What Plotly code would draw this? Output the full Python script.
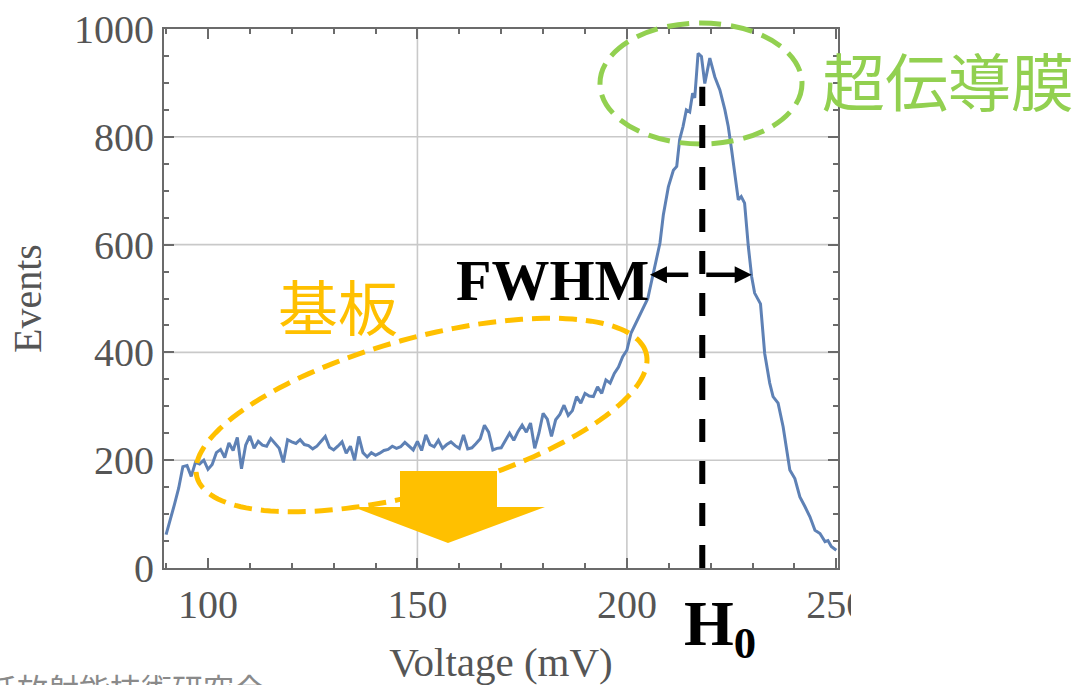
import numpy as np
import plotly.graph_objects as go

# ---------------- data ----------------
voltage = (list(range(90, 200)) +
           [200, 201, 202, 203, 204, 205, 205.5, 206.7, 207.5, 207.9, 208.7, 209.9,
            211.1, 211.9, 212.6, 213.4, 214.2, 215, 215.7, 216.2, 217, 217.8, 218.6,
            219.8, 221, 222.2, 223.4, 224.2, 225, 225.8, 226.6, 227.3, 228.1, 229,
            229.8, 230.5, 231.2, 231.9, 232.9, 234.1, 234.9, 236.1, 237.3, 238.5,
            238.9, 240.1, 241.3, 242.5, 243.7, 244.9, 246.1, 247.3, 248, 248.8, 250])
events = [62, 88, 118, 148, 188, 190, 170, 196, 193, 200,
          183, 192, 214, 220, 205, 232, 218, 242, 184, 228,
          245, 222, 235, 228, 226, 240, 230, 222, 196, 238,
          234, 231, 238, 229, 227, 221, 226, 236, 244, 224,
          219, 226, 234, 213, 226, 200, 244, 214, 206, 214,
          209, 213, 218, 220, 226, 222, 225, 233, 226, 219,
          235, 218, 247, 229, 225, 237, 222, 229, 234, 227,
          222, 247, 221, 223, 231, 240, 265, 252, 219, 222,
          223, 236, 250, 237, 253, 265, 252, 269, 222, 250,
          287, 276, 244, 275, 285, 302, 283, 292, 318, 306,
          324, 319, 318, 336, 324, 349, 343, 361, 373, 392,
          404, 436, 452, 470, 487, 500, 518, 559, 588, 603, 655, 707,
          738, 745, 795, 819, 850, 846, 881, 872, 955, 949, 899,
          946, 911, 887, 850, 819, 776, 732, 683, 689, 677, 596,
          540, 510, 500, 490, 398, 343, 318, 306, 262, 206,
          182, 166, 132, 114, 95, 70, 64, 49, 51, 40, 33]

x_range = [89.5, 250.4]
y_range = [0, 1000]
x_ticks = [100, 150, 200, 250]
y_ticks = [0, 200, 400, 600, 800, 1000]
x_grid = [150, 200]
y_grid = [200, 400, 600, 800]

h0_voltage = 218.0
h0_top = 893
fwhm_level = 544
fwhm_left = 205.5
fwhm_right = 229.8

# ---------------- layout geometry (pixels) ----------------
W, H = 1082, 685
L, R, T, B = 164, 838, 29, 568


def P(px, py):
    """pixel -> paper"""
    return (px - L) / (R - L), (B - py) / (B - T)


def dx(v):
    return L + (v - x_range[0]) / (x_range[1] - x_range[0]) * (R - L)


def dy(v):
    return B - (v - y_range[0]) / (y_range[1] - y_range[0]) * (B - T)


fig = go.Figure()
fig.add_trace(go.Scatter(x=voltage, y=events, mode="lines",
                         line=dict(color="#5E81B5", width=3),
                         showlegend=False, hoverinfo="skip"))

shapes = []
# grid lines
for g in x_grid:
    shapes.append(dict(type="line", xref="x", yref="paper", x0=g, x1=g, y0=0, y1=1,
                       line=dict(color="#c9c9c9", width=1.6), layer="below"))
for g in y_grid:
    shapes.append(dict(type="line", xref="paper", yref="y", x0=0, x1=1, y0=g, y1=g,
                       line=dict(color="#c9c9c9", width=1.6), layer="below"))

# orange rotated dashed ellipse (substrate)
cx, cy, a, b, th = 421.5, 415, 233, 77, np.deg2rad(15.45)
t = np.linspace(0, 2 * np.pi, 161)
ex = cx + a * np.cos(t) * np.cos(th) - b * np.sin(t) * np.sin(th)
ey = cy - (a * np.cos(t) * np.sin(th) + b * np.sin(t) * np.cos(th))
pts = [P(u, v) for u, v in zip(ex, ey)]
path = "M " + " L ".join(f"{p[0]:.5f},{p[1]:.5f}" for p in pts) + " Z"
shapes.append(dict(type="path", xref="paper", yref="paper", path=path,
                   line=dict(color="#FFC000", width=5, dash="18px,9px"), layer="above"))

# orange block arrow
arrow_px = [(400, 471), (497, 471), (497, 507), (545, 507), (448, 543), (353, 507), (400, 507)]
ap = [P(u, v) for u, v in arrow_px]
shapes.append(dict(type="path", xref="paper", yref="paper",
                   path="M " + " L ".join(f"{p[0]:.5f},{p[1]:.5f}" for p in ap) + " Z",
                   fillcolor="#FFC000", line=dict(width=0), layer="above"))

# green dashed ellipse (superconducting film)
g0 = P(600, 144)
g1 = P(802, 23)
shapes.append(dict(type="circle", xref="paper", yref="paper", x0=g0[0], x1=g1[0], y0=g0[1], y1=g1[1],
                   line=dict(color="#92D050", width=5, dash="22px,10px"), layer="above"))

# H0 dashed vertical line
shapes.append(dict(type="line", xref="x", yref="y", x0=h0_voltage, x1=h0_voltage, y0=0, y1=h0_top,
                   line=dict(color="black", width=6, dash="23px,19px"), layer="above"))

# FWHM arrows
yl = dy(fwhm_level)
lx_tip = dx(fwhm_left)
rx_tip = dx(fwhm_right)
h0x = dx(h0_voltage)
for tip, tail, sgn in [(lx_tip, h0x - 14, 1), (rx_tip, h0x + 4, -1)]:
    p0 = P(tail, yl)
    p1 = P(tip + sgn * 15, yl)
    shapes.append(dict(type="line", xref="paper", yref="paper", x0=p0[0], x1=p1[0], y0=p0[1], y1=p1[1],
                       line=dict(color="black", width=4.5), layer="above"))
    tri = [P(tip, yl), P(tip + sgn * 17, yl - 8.5), P(tip + sgn * 17, yl + 8.5)]
    shapes.append(dict(type="path", xref="paper", yref="paper",
                       path="M " + " L ".join(f"{p[0]:.5f},{p[1]:.5f}" for p in tri) + " Z",
                       fillcolor="black", line=dict(width=0), layer="above"))

# white mask that crops the last tick label like the original picture
m0 = P(851, 630)
m1 = P(900, 580)
shapes.append(dict(type="rect", xref="paper", yref="paper", x0=m0[0], x1=m1[0], y0=m0[1], y1=m1[1],
                   fillcolor="white", line=dict(width=0), layer="above"))

annotations = []


def text(s, px, py, size, color, family, xanchor="center"):
    p = P(px, py)
    annotations.append(dict(text=s, x=p[0], y=p[1], xref="paper", yref="paper",
                            showarrow=False, xanchor=xanchor, yanchor="middle",
                            font=dict(size=size, color=color, family=family)))


text("超伝導膜", 948, 78, 63, "#92D050", "Noto Sans CJK JP")
text("基板", 338, 304, 60, "#FFC000", "Noto Sans CJK JP")
text("<b>FWHM</b>", 552, 280, 58, "black", "Liberation Serif")
text("<b>H<sub>0</sub></b>", 720, 628, 64, "black", "Liberation Serif")
text("低放射能技術研究会", -16, 688, 31, "#8a8a8a", "Noto Sans CJK JP", xanchor="left")

axis_common = dict(showline=True, linecolor="#6b6b6b", linewidth=2, mirror="allticks",
                   ticks="inside", ticklen=10, tickwidth=1.5, tickcolor="#6b6b6b",
                   showgrid=False, zeroline=False, automargin=False,
                   tickfont=dict(family="Liberation Serif", size=40, color="#555555"))

fig.update_layout(
    width=W, height=H,
    margin=dict(l=L, r=W - R, t=T, b=H - B, pad=0),
    paper_bgcolor="white", plot_bgcolor="white",
    xaxis=dict(range=x_range, tickvals=x_ticks, **axis_common,
               minor=dict(ticks="inside", dtick=10, tick0=0, ticklen=5, tickcolor="#6b6b6b", showgrid=False),
               title=dict(text="Voltage (mV)", standoff=22,
                          font=dict(family="Liberation Serif", size=41, color="#555555"))),
    yaxis=dict(range=y_range, tickvals=y_ticks, **axis_common,
               minor=dict(ticks="inside", dtick=50, tick0=0, ticklen=5, tickcolor="#6b6b6b", showgrid=False),
               title=dict(text="Events", standoff=20,
                          font=dict(family="Liberation Serif", size=40, color="#555555"))),
    shapes=shapes, annotations=annotations,
)

fig.write_html("out.html")
